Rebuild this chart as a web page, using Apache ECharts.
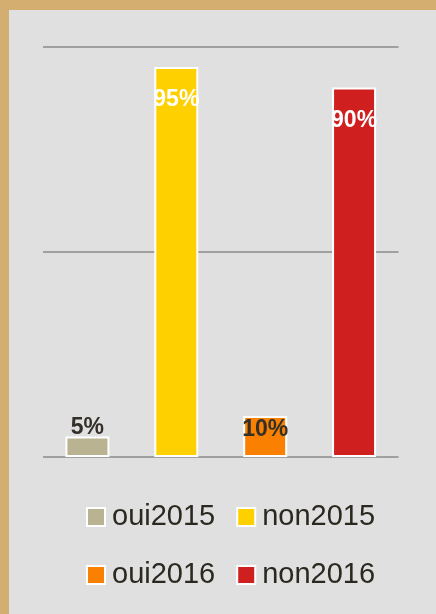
<!DOCTYPE html>
<html>
<head>
<meta charset="utf-8">
<script src="https://cdn.jsdelivr.net/npm/echarts@6/dist/echarts.min.js"></script>
<style>
  html, body { margin: 0; padding: 0; background: #D3AE70; }
  #main {
    position: absolute; left: 9px; top: 10px;
    width: 427px; height: 604px; background: #E0E0E0;
  }
</style>
</head>
<body>
<div id="main"></div>
<script>
// chart data
var categories = ["2015-2016"];
var seriesNames = ["oui2015", "non2015", "oui2016", "non2016"];
var seriesValues = [5, 95, 10, 90];
var seriesColors = ["#B9B391", "#FFD000", "#F98000", "#D01F1F"];
var yTicks = [0, 50, 100];

// label look per bar (small bars get dark text above, big ones white inside)
var labelStyles = [
  { position: "top", distance: 0, offset: [0, 3], color: "#33302A" },
  { position: "insideTop", distance: 21, offset: [0, 0], color: "#FFFFFF" },
  { position: "insideTop", distance: 2, offset: [0, 0], color: "#33302A" },
  { position: "insideTop", distance: 22, offset: [0, 0], color: "#FFFFFF" }
];

var series = seriesNames.map(function(name, i) {
  return {
    name: name,
    type: "bar",
    data: [seriesValues[i]],
    barWidth: 44,
    barGap: "102%",
    itemStyle: {
      color: seriesColors[i],
      borderColor: "#FFFFFF",
      borderWidth: 2
    },
    label: {
      show: true,
      position: labelStyles[i].position,
      distance: labelStyles[i].distance,
      offset: labelStyles[i].offset,
      formatter: "{c}%",
      color: labelStyles[i].color,
      fontFamily: "Liberation Sans",
      fontWeight: "bold",
      fontSize: 23
    }
  };
});

var legendText = {
  fontFamily: "Liberation Sans",
  fontSize: 29,
  color: "#2B2820",
  lineHeight: 32,
  padding: [0, 0, 0, 2]
};

var option = {
  animation: false,
  backgroundColor: "#E0E0E0",
  grid: { left: 34, right: 37.5, top: 36.5, bottom: 157 },
  xAxis: {
    type: "category",
    data: categories,
    axisLine: { show: false },
    axisTick: { show: false },
    axisLabel: { show: false }
  },
  yAxis: {
    type: "value",
    min: yTicks[0],
    max: yTicks[yTicks.length - 1],
    interval: 50,
    axisLabel: { show: false },
    axisLine: { show: false },
    axisTick: { show: false },
    splitLine: { lineStyle: { color: "#A0A0A0", width: 2 } }
  },
  legend: [
    {
      data: seriesNames.slice(0, 2),
      left: 72,
      top: 486,
      icon: "rect",
      itemWidth: 18,
      itemHeight: 18,
      itemGap: 21,
      textStyle: legendText
    },
    {
      data: seriesNames.slice(2, 4),
      left: 72,
      top: 544,
      icon: "rect",
      itemWidth: 18,
      itemHeight: 18,
      itemGap: 21,
      textStyle: legendText
    }
  ],
  series: series
};

var chart = echarts.init(document.getElementById("main"));
chart.setOption(option);
</script>
</body>
</html>
